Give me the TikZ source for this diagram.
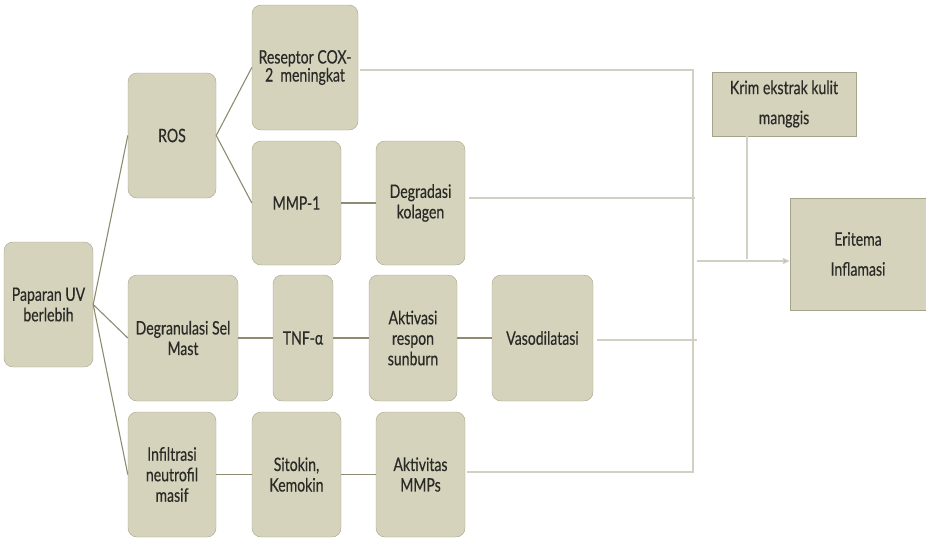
\documentclass[tikz,border=0pt]{standalone}
\usepackage{fontspec}
\setmainfont{Lato}[FakeStretch=0.76,FakeBold=0.4]
\usepackage{tikz}
\usetikzlibrary{arrows.meta,positioning,calc}

\definecolor{boxfill}{HTML}{D6D3BD}
\definecolor{boxedge}{HTML}{A6A38C}
\definecolor{darkline}{HTML}{8E8B72}
\definecolor{paleline}{HTML}{D2D0C2}
\definecolor{inktext}{HTML}{2A2A26}

\tikzset{
  stage/.style={draw=boxedge,fill=boxfill,rounded corners=9pt,align=center,
    text=inktext,font=\fontsize{18.5}{20.5}\selectfont,inner sep=2pt},
  plainbox/.style={stage,rounded corners=0pt,font=\fontsize{18.5}{30}\selectfont},
  tie/.style={darkline,line width=1.1pt},
  feed/.style={paleline,line width=1.1pt},
}

\begin{document}
\begin{tikzpicture}[x=1pt,y=-1pt]
      \useasboundingbox (0,0) rectangle (926,538);
      % boxes of the tree
      \node[stage,minimum width=89pt,minimum height=125pt] (uv) at (48.5,304.5) {Paparan UV\\berlebih};
      \node[stage,minimum width=88pt,minimum height=125pt] (ros) at (172,135.5) {ROS};
      \node[stage,minimum width=106pt,minimum height=125pt,font=\fontsize{18.5}{18}\selectfont] (cox) at (305,67.5) {Reseptor COX-\\2\ \ meningkat};
      \node[stage,minimum width=89pt,minimum height=124pt] (mmp) at (296.5,203) {MMP-1};
      \node[stage,minimum width=89pt,minimum height=124pt] (kolagen) at (420.5,203) {Degradasi\\kolagen};
      \node[stage,minimum width=110pt,minimum height=126pt] (mast) at (183,338) {Degranulasi Sel\\Mast};
      \node[stage,minimum width=60pt,minimum height=126pt] (tnf) at (303,338) {TNF-α};
      \node[stage,minimum width=88pt,minimum height=126pt] (sunburn) at (413,338) {Aktivasi\\respon\\sunburn};
      \node[stage,minimum width=101pt,minimum height=126pt] (vaso) at (542.5,338) {Vasodilatasi};
      \node[stage,minimum width=88pt,minimum height=125pt] (neutro) at (172,474.5) {Infiltrasi\\neutrofil\\masif};
      \node[stage,minimum width=89pt,minimum height=125pt] (sitokin) at (296.5,474.5) {Sitokin,\\Kemokin};
      \node[stage,minimum width=89pt,minimum height=125pt] (mmps) at (420.5,474.5) {Aktivitas\\MMPs};
      \node[plainbox,minimum width=144pt,minimum height=64pt] (krim) at (784,104) {Krim ekstrak kulit\\manggis};
      \node[plainbox,minimum width=136pt,minimum height=112pt] (eritema) at (858,254) {Eritema\\Inflamasi};

      % branches
      \draw[tie] (uv.east) -- (ros.west);
      \draw[tie] (uv.east) -- (mast.west);
      \draw[tie] (uv.east) -- (neutro.west);
      \draw[tie] (ros.east) -- (cox.west);
      \draw[tie] (ros.east) -- (mmp.west);
      \draw[tie] (mmp) -- (kolagen);
      \draw[tie] (mast) -- (tnf);
      \draw[tie] (tnf) -- (sunburn);
      \draw[tie] (sunburn) -- (vaso);
      \draw[tie] (neutro) -- (sitokin);
      \draw[tie] (sitokin) -- (mmps);

      % collecting lines
      \coordinate (top) at (693,70);
      \coordinate (bottom) at (693,472);
      \coordinate (join) at (697,261);
      \coordinate (drop) at (747,259);
      \draw[feed] ([xshift=2pt]cox.east |- top) -- (top) -- (bottom) -- ([xshift=2pt]mmps.east |- bottom);
      \draw[feed] ([xshift=4pt]kolagen.east |- 0,198) -- (695,198);
      \draw[feed] ([xshift=4pt]vaso.east |- 0,340) -- (697,340);
      \draw[feed,-{Triangle[length=7pt,width=6pt,fill=boxedge!70]}] (join) -- (eritema.west |- join);
      \draw[feed] (krim.south -| drop) -- (drop);
\end{tikzpicture}
\end{document}
